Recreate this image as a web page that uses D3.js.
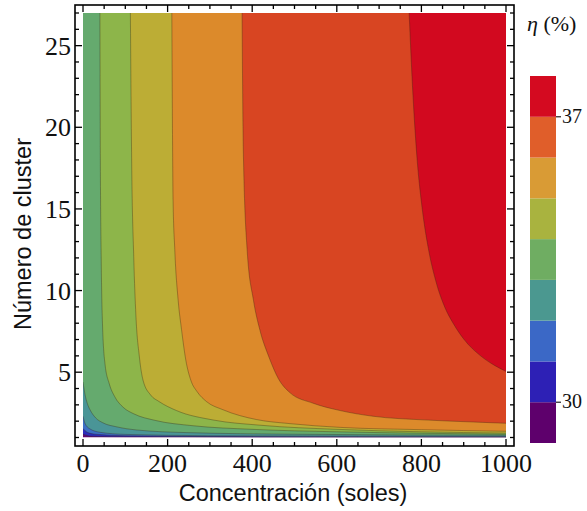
<!DOCTYPE html>
<html>
<head>
<meta charset="utf-8">
<script src="https://cdn.jsdelivr.net/npm/d3@7"></script>
<style>
	body { margin: 0; background: #fff; }
	text { fill: #111; }
	.tick-label { font-family: "Liberation Serif", "DejaVu Serif", serif; font-size: 26px; }
	.axis-title { font-family: "Liberation Sans", Arial, sans-serif; font-size: 23.5px; }
</style>
</head>
<body>
<div id="chart"></div>
<script>
var xTicks = [0, 200, 400, 600, 800, 1000];
var yTicks = [5, 10, 15, 20, 25];
var legendTicks = [30, 37];
var legendEdges = [29, 30, 31, 32, 33, 34, 35, 36, 37, 38];

// contour boundaries, [concentración, número de cluster]
// ordered from lowest to highest efficiency
var contour1 = [[0, 1.2], [20, 1.08], [100, 1.04], [400, 1.02], [1000, 1.01]];
var contour2 = [[0, 1.55], [10, 1.32], [30, 1.2], [100, 1.11], [300, 1.06], [1000, 1.035]];
var contour3 = [[0, 2.3], [5, 1.85], [15, 1.55], [40, 1.32], [100, 1.19], [300, 1.11], [1000, 1.07]];
var contour4 = [[0, 4.4], [5, 3.6], [10, 3.1], [17, 2.68], [30, 2.2], [47, 1.9], [80, 1.65], [127, 1.46], [245, 1.3], [500, 1.2], [1000, 1.14]];
var contour5 = [[40, 27], [41, 18], [43, 12], [46, 8], [52, 5.5], [62, 4.3], [75, 3.5], [95, 2.85], [120, 2.45], [170, 2.05], [260, 1.72], [400, 1.5], [600, 1.35], [800, 1.26], [1000, 1.2]];
var contour6 = [[112, 27], [115, 18], [120, 12], [125, 8.5], [133, 6], [142, 4.5], [160, 3.6], [180, 3.2], [221, 2.65], [308, 2.07], [420, 1.75], [600, 1.5], [800, 1.35], [1000, 1.27]];
var contour7 = [[210, 27], [213, 15.5], [217, 12.5], [225, 9.4], [233, 7.6], [243, 5.75], [255, 4.5], [270, 3.8], [292, 3.2], [331, 2.7], [410, 2.1], [489, 1.85], [608, 1.62], [800, 1.48], [1000, 1.38]];
var contour8 = [[376, 27], [379, 18.6], [388, 12.5], [403, 9.4], [418, 7.6], [440, 5.9], [462, 4.6], [489, 3.75], [544, 3.1], [608, 2.65], [686, 2.3], [804, 2.08], [922, 1.95], [1000, 1.87]];
var contour9 = [[771, 27], [780, 22], [790, 18], [802, 15], [817, 12.5], [835, 10.5], [855, 9], [875, 8], [901, 7], [940, 6], [974, 5.4], [1000, 5.05]];

var contours = [contour1, contour2, contour3, contour4, contour5, contour6, contour7, contour8, contour9];
var regionColors = ['#5c0a72', '#2c2cbc', '#3b6fc4', '#4a9597', '#65aa6e', '#8db54a', '#bcad35', '#dc8a2b', '#d84522', '#d2091f'];
var legendColors = ['#5e006c', '#2d20b5', '#3b68c6', '#4b9890', '#6fad62', '#a9b33f', '#d99b35', '#e05e2a', '#d40a20'];

var width = 587, height = 511;
var frame = { left: 75, right: 514, top: 5, bottom: 446 };

var x = d3.scaleLinear().domain([0, 1000]).range([83, 506]);
var y = d3.scaleLinear().domain([1, 27]).range([437.5, 13]);

var svg = d3.select('#chart').append('svg')
	.attr('width', width)
	.attr('height', height);

svg.append('clipPath').attr('id', 'plot-clip')
	.append('rect')
	.attr('x', x(0)).attr('y', y(27))
	.attr('width', x(1000) - x(0)).attr('height', y(1) - y(27));

var plot = svg.append('g').attr('clip-path', 'url(#plot-clip)');

// base region
plot.append('rect')
	.attr('x', x(0)).attr('y', y(27))
	.attr('width', x(1000) - x(0)).attr('height', y(1) - y(27))
	.attr('fill', regionColors[0]);

var curve = d3.line()
	.x(function(d) { return x(d[0]); })
	.y(function(d) { return y(d[1]); })
	.curve(d3.curveMonotoneX);

// each region lies above / right of its boundary
plot.selectAll('path.region')
	.data(contours)
	.enter().append('path')
	.classed('region', true)
	.attr('fill', function(d, i) { return regionColors[i + 1]; })
	.attr('d', function(d) {
		return curve(d) + 'L' + x(1000) + ',' + (y(27) - 2) + 'L' + (x(0) - 2) + ',' + (y(27) - 2) + 'Z';
	});

plot.selectAll('path.contour-line')
	.data(contours)
	.enter().append('path')
	.classed('contour-line', true)
	.attr('fill', 'none')
	.attr('stroke', 'rgba(60,40,20,0.45)')
	.attr('stroke-width', 0.8)
	.attr('d', curve);

// frame
svg.append('rect')
	.attr('x', frame.left).attr('y', frame.top)
	.attr('width', frame.right - frame.left).attr('height', frame.bottom - frame.top)
	.attr('fill', 'none').attr('stroke', '#000').attr('stroke-width', 1.6);

var xMinor = d3.range(0, 1001, 50);
var yMinor = d3.range(1, 28, 1);
var ticks = svg.append('g').attr('stroke', '#000').attr('stroke-width', 1.3);

xMinor.forEach(function(v) {
	var len = v % 200 === 0 ? 7 : 4;
	ticks.append('line').attr('x1', x(v)).attr('x2', x(v)).attr('y1', frame.bottom).attr('y2', frame.bottom - len);
	ticks.append('line').attr('x1', x(v)).attr('x2', x(v)).attr('y1', frame.top).attr('y2', frame.top + len);
});
yMinor.forEach(function(v) {
	var len = v % 5 === 0 ? 7 : 4;
	ticks.append('line').attr('y1', y(v)).attr('y2', y(v)).attr('x1', frame.left).attr('x2', frame.left + len);
	ticks.append('line').attr('y1', y(v)).attr('y2', y(v)).attr('x1', frame.right).attr('x2', frame.right - len);
});

svg.selectAll('text.x-label')
	.data(xTicks)
	.enter().append('text')
	.attr('class', 'tick-label')
	.attr('x', function(d) { return x(d); })
	.attr('y', 472)
	.attr('text-anchor', 'middle')
	.text(function(d) { return d; });

svg.selectAll('text.y-label')
	.data(yTicks)
	.enter().append('text')
	.attr('class', 'tick-label')
	.attr('x', 71)
	.attr('y', function(d) { return y(d) + 9; })
	.attr('text-anchor', 'end')
	.text(function(d) { return d; });

svg.append('text')
	.attr('class', 'axis-title')
	.attr('transform', 'translate(31,234) rotate(-90)')
	.attr('text-anchor', 'middle')
	.text('Número de cluster');

svg.append('text')
	.attr('class', 'axis-title')
	.attr('x', 293).attr('y', 501)
	.attr('text-anchor', 'middle')
	.text('Concentración (soles)');

// legend
var ly = d3.scaleLinear().domain([29, 38]).range([443, 76]);
var legend = svg.append('g');
legend.selectAll('rect')
	.data(legendColors)
	.enter().append('rect')
	.attr('x', 530)
	.attr('width', 26)
	.attr('y', function(d, i) { return ly(legendEdges[i + 1]); })
	.attr('height', function(d, i) { return ly(legendEdges[i]) - ly(legendEdges[i + 1]); })
	.attr('fill', function(d) { return d; });

legend.selectAll('line')
	.data(legendTicks)
	.enter().append('line')
	.attr('x1', 556).attr('x2', 561)
	.attr('y1', function(d) { return ly(d); })
	.attr('y2', function(d) { return ly(d); })
	.attr('stroke', '#222').attr('stroke-width', 1.2);

legend.selectAll('text')
	.data(legendTicks)
	.enter().append('text')
	.attr('x', 562)
	.attr('y', function(d) { return ly(d) + 6; })
	.style('font-family', '"Liberation Serif", serif')
	.style('font-size', '20px')
	.text(function(d) { return d; });

var title = svg.append('text')
	.attr('x', 527).attr('y', 31)
	.style('font-family', '"Liberation Serif", serif')
	.style('font-size', '22px');
title.append('tspan').style('font-style', 'italic').text('η');
title.append('tspan').text(' (%)');
</script>
</body>
</html>
